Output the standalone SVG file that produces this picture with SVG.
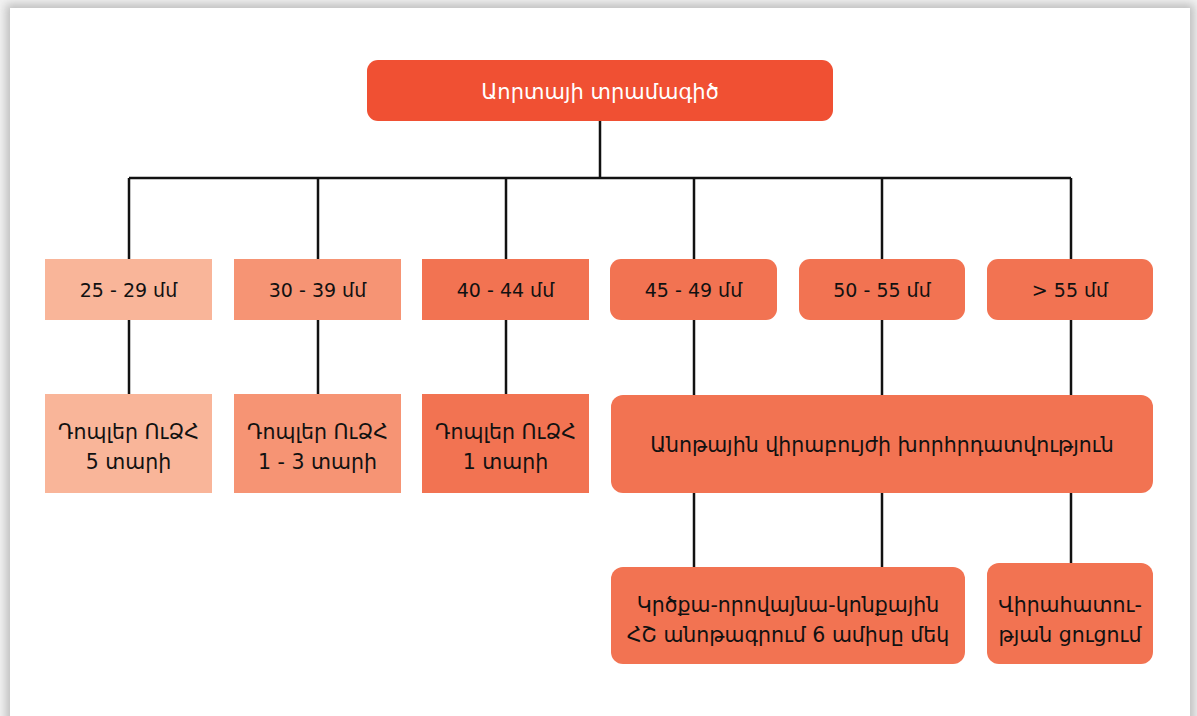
<svg xmlns="http://www.w3.org/2000/svg" width="1197" height="716" viewBox="0 0 1197 716">
<defs>
<filter id="sh" x="-5%" y="-5%" width="110%" height="110%"><feGaussianBlur stdDeviation="5"/></filter>
<style>
text{font-family:"DejaVu Sans","Noto Sans",sans-serif;font-size:20.5px;fill:#111;text-anchor:middle}
.num{font-size:19px}
.w{fill:#fff;font-size:21px}
.c1{fill:#F9B599}.c2{fill:#F69474}.c3{fill:#F27352}.top{fill:#F05033}
.ln{stroke:#111;stroke-width:2.5;fill:none}
</style>
</defs>
<rect width="1197" height="716" fill="#f2f2f2"/>
<rect x="6" y="4" width="1188" height="740" fill="#bdbdbd" filter="url(#sh)"/>
<rect x="10" y="8" width="1180" height="720" fill="#fff"/>
<g id="connectors" class="ln">
<path d="M600 121V178M129 178H1071M129 178V259M318 178V259M506 178V259M694 178V259M882 178V259M1071 178V259"/>
<path d="M129 320V395M318 320V395M506 320V395M694 320V395M882 320V395M1071 320V395"/>
<path d="M694 493V567M882 493V567M1071 493V563"/>
</g>
<g id="root"><rect class="top" x="367" y="60" width="466" height="61" rx="11"/><text class="w" x="600" y="99">Աորտայի տրամագիծ</text></g>
<g id="n1"><rect class="c1" x="45" y="259" width="167" height="61"/><text class="num" x="128.5" y="297">25 - 29 մմ</text></g>
<g id="n2"><rect class="c2" x="234" y="259" width="167" height="61"/><text class="num" x="317.5" y="297">30 - 39 մմ</text></g>
<g id="n3"><rect class="c3" x="422" y="259" width="167" height="61"/><text class="num" x="505.5" y="297">40 - 44 մմ</text></g>
<g id="n4"><rect class="c3" x="610" y="259" width="167" height="61" rx="11"/><text class="num" x="693.5" y="297">45 - 49 մմ</text></g>
<g id="n5"><rect class="c3" x="799" y="259" width="166" height="61" rx="11"/><text class="num" x="882" y="297">50 - 55 մմ</text></g>
<g id="n6"><rect class="c3" x="987" y="259" width="166" height="61" rx="11"/><text class="num" x="1070" y="297">&gt; 55 մմ</text></g>
<g id="d1"><rect class="c1" x="45" y="394" width="167" height="99"/><text x="128.5" y="439">Դոպլեր ՈւՁՀ</text><text x="128.5" y="469">5 տարի</text></g>
<g id="d2"><rect class="c2" x="234" y="394" width="167" height="99"/><text x="317.5" y="439">Դոպլեր ՈւՁՀ</text><text x="317.5" y="469">1 - 3 տարի</text></g>
<g id="d3"><rect class="c3" x="422" y="394" width="167" height="99"/><text x="505.5" y="439">Դոպլեր ՈւՁՀ</text><text x="505.5" y="469">1 տարի</text></g>
<g id="big"><rect class="c3" x="611" y="395" width="542" height="98" rx="12"/><text x="882" y="452">Անոթային վիրաբույժի խորհրդատվություն</text></g>
<g id="b1"><rect class="c3" x="611" y="567" width="354" height="97" rx="12"/><text x="788" y="612">Կրծքա-որովայնա-կոնքային</text><text x="788" y="642">ՀՇ անոթագրում 6 ամիսը մեկ</text></g>
<g id="b2"><rect class="c3" x="987" y="563" width="166" height="101" rx="12"/><text x="1070" y="612">Վիրահատու-</text><text x="1070" y="642">թյան ցուցում</text></g>
</svg>
